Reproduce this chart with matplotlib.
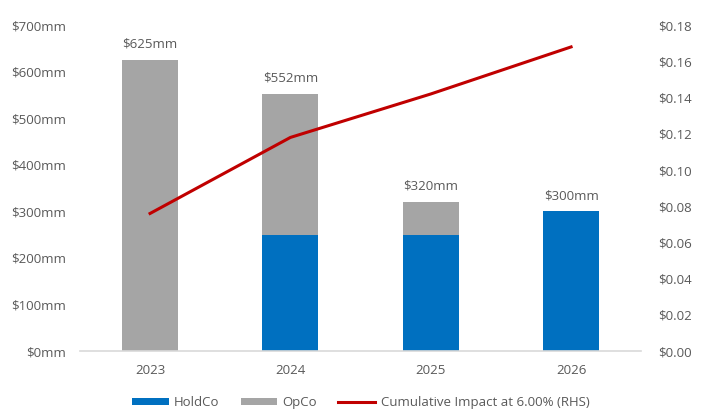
import matplotlib.pyplot as plt
import numpy as np

years = ["2023", "2024", "2025", "2026"]
holdco = [0, 250, 250, 300]
opco = [625, 302, 70, 0]
totals = [625, 552, 320, 300]
cumulative_impact = [0.076, 0.118, 0.142, 0.168]

BLUE = "#0070c0"
GREY = "#a5a5a5"
RED = "#c00000"
TEXT = "#595959"

plt.rcParams["font.family"] = ["Open Sans", "DejaVu Sans"]

fig = plt.figure(figsize=(7.07, 4.13), dpi=100)
ax = fig.add_axes([0.113, 0.150, 0.794, 0.789])
x = np.arange(len(years))

ax.bar(x, holdco, width=0.4, color=BLUE, label="HoldCo", zorder=2)
ax.bar(x, opco, width=0.4, bottom=holdco, color=GREY, label="OpCo", zorder=2)
for xi, total in zip(x, totals):
    ax.text(xi, total + 20, f"${total}mm", ha="center", va="bottom",
            fontsize=9.5, color=TEXT)

ax.set_xlim(-0.5, 3.5)
ax.set_ylim(0, 700)
ax.set_yticks(np.arange(0, 701, 100))
ax.set_yticklabels([f"${v}mm" for v in range(0, 701, 100)])
ax.set_xticks(x)
ax.set_xticklabels(years)

ax2 = ax.twinx()
ax2.plot(x, cumulative_impact, color=RED, linewidth=2.2,
         label="Cumulative Impact at 6.00% (RHS)", zorder=3)
ax2.set_ylim(0, 0.18)
ax2.set_yticks(np.arange(0, 0.181, 0.02))
ax2.set_yticklabels([f"${v:.2f}" for v in np.arange(0, 0.181, 0.02)])

for a in (ax, ax2):
    for side in ("top", "left", "right", "bottom"):
        a.spines[side].set_visible(False)
    a.tick_params(length=0, labelsize=9.5, labelcolor=TEXT)
ax.spines["bottom"].set_visible(True)
ax.spines["bottom"].set_color("#d9d9d9")
ax.spines["bottom"].set_linewidth(1.2)
ax.tick_params(axis="y", pad=10)
ax.tick_params(axis="x", pad=9)
ax2.tick_params(axis="y", pad=12)

handles = ax.get_legend_handles_labels()[0] + ax2.get_legend_handles_labels()[0]
labels = ax.get_legend_handles_labels()[1] + ax2.get_legend_handles_labels()[1]
leg = fig.legend(handles, labels, loc="lower center", ncol=3,
                 bbox_to_anchor=(0.51, -0.02), frameon=False, fontsize=9.5,
                 handlelength=2.8, handleheight=0.5, columnspacing=1.6,
                 handletextpad=0.4)
for t in leg.get_texts():
    t.set_color(TEXT)

fig.savefig("out.png", dpi=100)
